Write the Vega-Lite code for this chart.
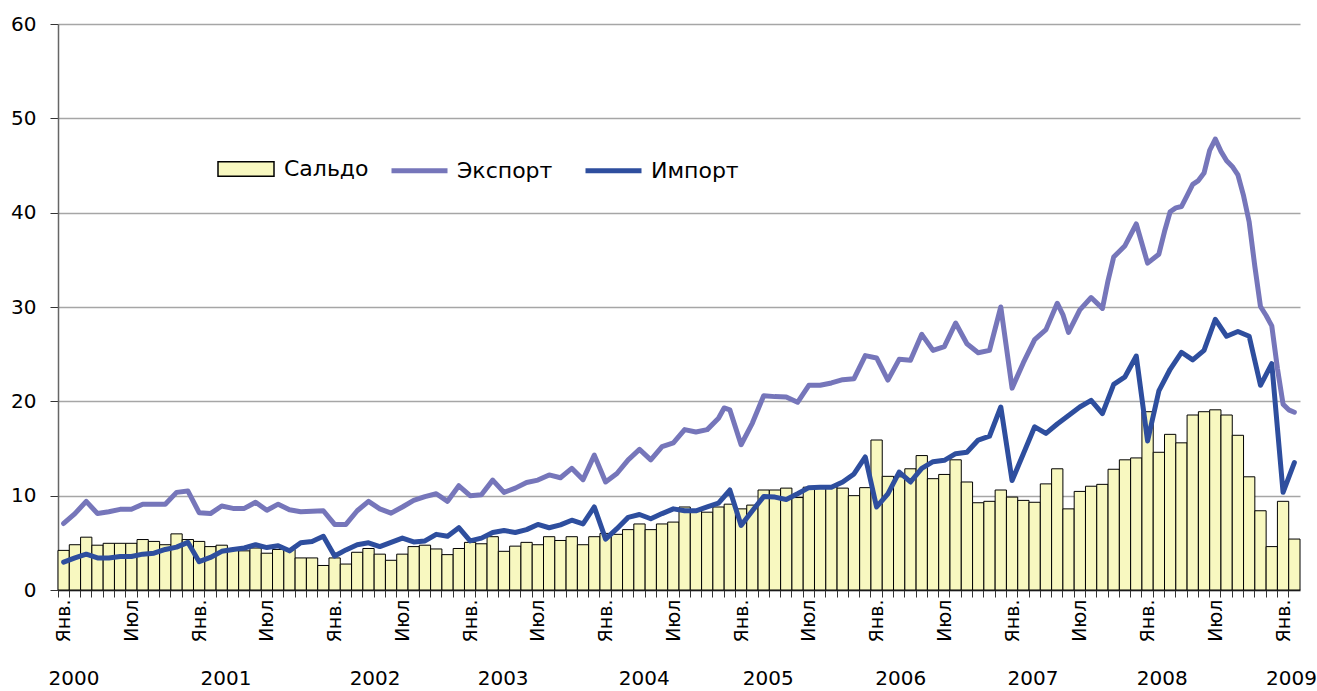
{
  "$schema": "https://vega.github.io/schema/vega-lite/v6.json",
  "width": 1242,
  "height": 566,
  "autosize": {"type": "none"},
  "padding": {"left": 58, "top": 24, "right": 17, "bottom": 101},
  "background": "white",
  "config": {
    "view": {"stroke": null},
    "font": "DejaVu Sans",
    "axisY": {
      "grid": true, "gridColor": "#A6A6A6", "gridWidth": 1.5,
      "domainColor": "#666666", "domainWidth": 1.5,
      "tickColor": "#333333", "tickSize": 8, "tickWidth": 1,
      "labelFontSize": 20, "labelColor": "#000000", "labelPadding": 14
    }
  },
  "datasets": {
    "monthly": [
      {"i":0,"saldo":4.2,"imp":2.95},{"i":1,"saldo":4.8,"imp":3.4},{"i":2,"saldo":5.6,"imp":3.8},{"i":3,"saldo":4.75,"imp":3.4},
      {"i":4,"saldo":4.95,"imp":3.4},{"i":5,"saldo":4.95,"imp":3.55},{"i":6,"saldo":4.95,"imp":3.55},{"i":7,"saldo":5.35,"imp":3.8},
      {"i":8,"saldo":5.15,"imp":3.9},{"i":9,"saldo":4.8,"imp":4.3},{"i":10,"saldo":5.95,"imp":4.55},{"i":11,"saldo":5.35,"imp":5.05},
      {"i":12,"saldo":5.15,"imp":3.0},{"i":13,"saldo":4.6,"imp":3.45},{"i":14,"saldo":4.75,"imp":4.1},{"i":15,"saldo":4.3,"imp":4.3},
      {"i":16,"saldo":4.15,"imp":4.45},{"i":17,"saldo":4.45,"imp":4.8},{"i":18,"saldo":3.9,"imp":4.5},{"i":19,"saldo":4.3,"imp":4.7},
      {"i":20,"saldo":4.3,"imp":4.15},{"i":21,"saldo":3.4,"imp":5.0},{"i":22,"saldo":3.4,"imp":5.15},{"i":23,"saldo":2.6,"imp":5.7},
      {"i":24,"saldo":3.4,"imp":3.6},{"i":25,"saldo":2.75,"imp":4.25},{"i":26,"saldo":4.0,"imp":4.8},{"i":27,"saldo":4.4,"imp":5.0},
      {"i":28,"saldo":3.8,"imp":4.6},{"i":29,"saldo":3.15,"imp":5.05},{"i":30,"saldo":3.8,"imp":5.5},{"i":31,"saldo":4.6,"imp":5.1},
      {"i":32,"saldo":4.75,"imp":5.2},{"i":33,"saldo":4.35,"imp":5.9},{"i":34,"saldo":3.75,"imp":5.7},{"i":35,"saldo":4.4,"imp":6.6},
      {"i":36,"saldo":5.05,"imp":5.2},{"i":37,"saldo":4.9,"imp":5.5},{"i":38,"saldo":5.65,"imp":6.1},{"i":39,"saldo":4.1,"imp":6.3},
      {"i":40,"saldo":4.65,"imp":6.1},{"i":41,"saldo":5.05,"imp":6.4},{"i":42,"saldo":4.8,"imp":6.95},{"i":43,"saldo":5.65,"imp":6.6},
      {"i":44,"saldo":5.25,"imp":6.9},{"i":45,"saldo":5.65,"imp":7.4},{"i":46,"saldo":4.8,"imp":7.0},{"i":47,"saldo":5.65,"imp":8.8},
      {"i":48,"saldo":6.0,"imp":5.4},{"i":49,"saldo":5.9,"imp":6.5},{"i":50,"saldo":6.4,"imp":7.7},{"i":51,"saldo":7.0,"imp":8.0},
      {"i":52,"saldo":6.4,"imp":7.55},{"i":53,"saldo":7.0,"imp":8.1},{"i":54,"saldo":7.2,"imp":8.6},{"i":55,"saldo":8.8,"imp":8.4},
      {"i":56,"saldo":8.4,"imp":8.4},{"i":57,"saldo":8.25,"imp":8.8},{"i":58,"saldo":8.8,"imp":9.2},{"i":59,"saldo":9.1,"imp":10.6},
      {"i":60,"saldo":8.6,"imp":6.85},{"i":61,"saldo":9.0,"imp":8.4},{"i":62,"saldo":10.6,"imp":9.9},{"i":63,"saldo":10.6,"imp":9.85},
      {"i":64,"saldo":10.8,"imp":9.6},{"i":65,"saldo":9.8,"imp":10.2},{"i":66,"saldo":10.9,"imp":10.85},{"i":67,"saldo":10.9,"imp":10.9},
      {"i":68,"saldo":10.9,"imp":10.9},{"i":69,"saldo":10.8,"imp":11.45},{"i":70,"saldo":10.0,"imp":12.3},{"i":71,"saldo":10.85,"imp":14.1},
      {"i":72,"saldo":15.9,"imp":8.8},{"i":73,"saldo":12.05,"imp":10.2},{"i":74,"saldo":12.0,"imp":12.5},{"i":75,"saldo":12.85,"imp":11.45},
      {"i":76,"saldo":14.25,"imp":12.9},{"i":77,"saldo":11.8,"imp":13.6},{"i":78,"saldo":12.25,"imp":13.75},{"i":79,"saldo":13.8,"imp":14.45},
      {"i":80,"saldo":11.45,"imp":14.6},{"i":81,"saldo":9.25,"imp":15.9},{"i":82,"saldo":9.4,"imp":16.3},{"i":83,"saldo":10.6,"imp":19.4},
      {"i":84,"saldo":9.85,"imp":11.6},{"i":85,"saldo":9.5,"imp":14.45},{"i":86,"saldo":9.3,"imp":17.3},{"i":87,"saldo":11.25,"imp":16.6},
      {"i":88,"saldo":12.85,"imp":17.6},{"i":89,"saldo":8.6,"imp":18.5},{"i":90,"saldo":10.45,"imp":19.4},{"i":91,"saldo":11.0,"imp":20.1},
      {"i":92,"saldo":11.2,"imp":18.7},{"i":93,"saldo":12.8,"imp":21.8},{"i":94,"saldo":13.8,"imp":22.6},{"i":95,"saldo":14.0,"imp":24.8},
      {"i":96,"saldo":18.9,"imp":15.8},{"i":97,"saldo":14.6,"imp":21.1},{"i":98,"saldo":16.5,"imp":23.4},{"i":99,"saldo":15.6,"imp":25.2},
      {"i":100,"saldo":18.55,"imp":24.4},{"i":101,"saldo":18.9,"imp":25.4},{"i":102,"saldo":19.1,"imp":28.7},{"i":103,"saldo":18.55,"imp":26.9},
      {"i":104,"saldo":16.4,"imp":27.4},{"i":105,"saldo":12.0,"imp":26.9},{"i":106,"saldo":8.4,"imp":21.7},{"i":107,"saldo":4.6,"imp":24.0},
      {"i":108,"saldo":9.4,"imp":10.35},{"i":109,"saldo":5.4,"imp":13.5}
    ],
    "export": [
      {"t":0.5,"v":7.05},{"t":1.5,"v":8.1},{"t":2.5,"v":9.4},{"t":3.5,"v":8.1},{"t":4.5,"v":8.3},{"t":5.5,"v":8.55},
      {"t":6.5,"v":8.55},{"t":7.5,"v":9.1},{"t":8.5,"v":9.1},{"t":9.5,"v":9.1},{"t":10.5,"v":10.35},{"t":11.5,"v":10.5},
      {"t":12.5,"v":8.2},{"t":13.5,"v":8.1},{"t":14.5,"v":8.9},{"t":15.5,"v":8.65},{"t":16.5,"v":8.65},{"t":17.5,"v":9.3},
      {"t":18.5,"v":8.45},{"t":19.5,"v":9.1},{"t":20.5,"v":8.5},{"t":21.5,"v":8.3},{"t":22.5,"v":8.35},{"t":23.5,"v":8.4},
      {"t":24.5,"v":6.95},{"t":25.5,"v":6.95},{"t":26.5,"v":8.4},{"t":27.5,"v":9.4},{"t":28.5,"v":8.6},{"t":29.5,"v":8.15},
      {"t":30.5,"v":8.8},{"t":31.5,"v":9.5},{"t":32.5,"v":9.9},{"t":33.5,"v":10.2},{"t":34.5,"v":9.4},{"t":35.5,"v":11.05},
      {"t":36.5,"v":10.0},{"t":37.5,"v":10.1},{"t":38.5,"v":11.65},{"t":39.5,"v":10.35},{"t":40.5,"v":10.8},{"t":41.5,"v":11.4},
      {"t":42.5,"v":11.65},{"t":43.5,"v":12.2},{"t":44.5,"v":11.9},{"t":45.5,"v":12.9},{"t":46.5,"v":11.7},{"t":47.5,"v":14.3},
      {"t":48.5,"v":11.45},{"t":49.5,"v":12.35},{"t":50.5,"v":13.8},{"t":51.5,"v":14.9},{"t":52.5,"v":13.8},{"t":53.5,"v":15.2},
      {"t":54.5,"v":15.6},{"t":55.5,"v":17.0},{"t":56.5,"v":16.75},{"t":57.5,"v":17.0},{"t":58.5,"v":18.2},{"t":59.0,"v":19.3},{"t":59.5,"v":19.1},
      {"t":60.5,"v":15.4},{"t":61.5,"v":17.7},{"t":62.5,"v":20.6},{"t":63.5,"v":20.5},{"t":64.5,"v":20.45},{"t":65.5,"v":19.9},
      {"t":66.5,"v":21.7},{"t":67.5,"v":21.7},{"t":68.5,"v":21.95},{"t":69.5,"v":22.3},{"t":70.5,"v":22.4},{"t":71.5,"v":24.85},
      {"t":72.5,"v":24.6},{"t":73.5,"v":22.25},{"t":74.5,"v":24.45},{"t":75.5,"v":24.35},{"t":76.5,"v":27.1},{"t":77.5,"v":25.4},
      {"t":78.5,"v":25.8},{"t":79.5,"v":28.3},{"t":80.5,"v":26.1},{"t":81.5,"v":25.15},{"t":82.5,"v":25.4},{"t":83.5,"v":30.0},
      {"t":84.5,"v":21.4},{"t":85.5,"v":24.1},{"t":86.5,"v":26.55},{"t":87.5,"v":27.6},{"t":88.5,"v":30.4},{"t":89.0,"v":29.2},{"t":89.5,"v":27.3},
      {"t":90.5,"v":29.7},{"t":91.5,"v":31.0},{"t":92.5,"v":29.85},{"t":93.0,"v":32.8},{"t":93.5,"v":35.3},{"t":94.5,"v":36.5},{"t":95.5,"v":38.8},
      {"t":96.5,"v":34.65},{"t":97.5,"v":35.6},{"t":98.0,"v":38.0},{"t":98.5,"v":40.1},{"t":99.0,"v":40.5},{"t":99.5,"v":40.65},
      {"t":100.0,"v":41.8},{"t":100.5,"v":43.0},{"t":101.0,"v":43.4},{"t":101.5,"v":44.2},{"t":102.0,"v":46.6},{"t":102.5,"v":47.8},
      {"t":103.0,"v":46.5},{"t":103.5,"v":45.5},{"t":104.0,"v":44.9},{"t":104.5,"v":44.0},{"t":105.0,"v":41.8},{"t":105.5,"v":39.0},
      {"t":106.0,"v":34.3},{"t":106.5,"v":30.05},{"t":107.0,"v":29.1},{"t":107.5,"v":28.0},{"t":108.0,"v":23.5},{"t":108.5,"v":19.7},
      {"t":109.0,"v":19.1},{"t":109.5,"v":18.85}
    ]
  },
  "layer": [
    {
      "data": {"name": "monthly"},
      "mark": {"type": "bar", "stroke": "#000000", "strokeWidth": 1},
      "encoding": {
        "x": {
          "field": "i", "type": "ordinal",
          "scale": {"type": "band", "paddingInner": 0, "paddingOuter": 0},
          "axis": {
            "orient": "bottom", "title": null, "labels": false, "bandPosition": 0,
            "ticks": true, "tickSize": 7, "tickColor": "#333333", "tickWidth": 1,
            "domain": true, "domainColor": "#333333", "domainWidth": 1.5, "grid": false
          }
        },
        "y": {"field": "saldo", "type": "quantitative", "scale": {"domain": [0, 60]}, "title": null,
              "axis": {"values": [0, 10, 20, 30, 40, 50, 60]}},
        "fill": {
          "datum": "Сальдо",
          "scale": {"domain": ["Сальдо"], "range": ["#F8F8C0"]},
          "legend": {
            "title": null, "orient": "none", "legendX": 159, "legendY": 116,
            "direction": "horizontal", "labelFontSize": 22, "labelColor": "#000000",
            "labelOffset": 9, "symbolSize": 3136,
            "symbolType": "M-1,-0.26H1V0.26H-1Z",
            "symbolFillColor": "#F8F8C0", "symbolStrokeColor": "#000000", "symbolStrokeWidth": 1.5
          }
        }
      }
    },
    {
      "data": {"name": "monthly"},
      "mark": {"type": "line", "strokeWidth": 5, "strokeJoin": "round", "strokeCap": "round"},
      "encoding": {
        "x": {
          "field": "i", "type": "ordinal",
          "scale": {"type": "point", "padding": 0.5},
          "axis": {
            "orient": "bottom", "title": null,
            "values": [0, 6, 12, 18, 24, 30, 36, 42, 48, 54, 60, 66, 72, 78, 84, 90, 96, 102, 108],
            "labelExpr": "datum.value % 12 === 0 ? 'Янв.' : 'Июл'",
            "labelAngle": 270, "labelAlign": "right", "labelBaseline": "middle",
            "labelFontSize": 19, "labelColor": "#000000", "labelPadding": 9,
            "ticks": false, "tickSize": 0, "domain": false, "grid": false,
            "labelOverlap": false, "labelBound": false, "labelFlush": false
          }
        },
        "y": {"field": "imp", "type": "quantitative", "scale": {"domain": [0, 60]}, "title": null,
              "axis": {"values": [0, 10, 20, 30, 40, 50, 60]}},
        "stroke": {
          "datum": "Импорт",
          "scale": {"domain": ["Экспорт", "Импорт"], "range": ["#7676BA", "#2E4E9E"]},
          "legend": {
            "title": null, "orient": "none", "legendX": 331, "legendY": 116,
            "direction": "horizontal", "labelFontSize": 22, "labelColor": "#000000",
            "labelOffset": 7, "columnPadding": 22, "symbolSize": 3136,
            "symbolType": "stroke", "symbolStrokeWidth": 5
          }
        }
      }
    },
    {
      "data": {"name": "export"},
      "mark": {"type": "line", "strokeWidth": 5, "strokeJoin": "round", "strokeCap": "round"},
      "encoding": {
        "x": {
          "field": "t", "type": "quantitative",
          "scale": {"domain": [0, 110], "nice": false, "zero": false},
          "axis": {
            "orient": "bottom", "title": null,
            "values": [1.37, 14.84, 28.04, 39.38, 51.87, 62.86, 74.6, 86.3, 97.76, 109.2],
            "labelExpr": "toString(2000 + floor(datum.value / 12))",
            "labelFontSize": 20, "labelColor": "#000000", "labelPadding": 78,
            "ticks": false, "tickSize": 0, "domain": false, "grid": false,
            "labelOverlap": false, "labelBound": false, "labelFlush": false
          }
        },
        "y": {"field": "v", "type": "quantitative", "scale": {"domain": [0, 60]}, "title": null,
              "axis": {"values": [0, 10, 20, 30, 40, 50, 60]}},
        "stroke": {"datum": "Экспорт"}
      }
    }
  ],
  "resolve": {"scale": {"x": "independent"}, "axis": {"x": "independent"}}
}
